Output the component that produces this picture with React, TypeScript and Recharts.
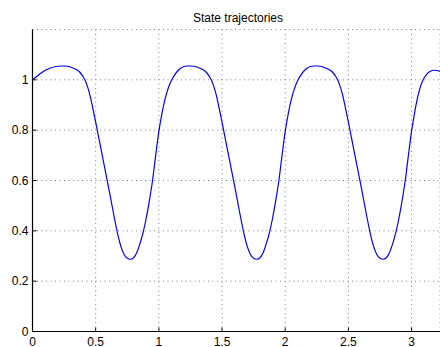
import React from 'react'
import { LineChart, Line, XAxis, YAxis, CartesianGrid } from 'recharts'

// time samples (s)
const times = [
  0, 0.025, 0.05, 0.075, 0.1, 0.125, 0.15, 0.175, 0.2, 0.225,
  0.25, 0.275, 0.3, 0.325, 0.35, 0.375, 0.4, 0.425, 0.45, 0.475,
  0.5, 0.525, 0.55, 0.575, 0.6, 0.625, 0.65, 0.675, 0.7, 0.725,
  0.75, 0.775, 0.8, 0.825, 0.85, 0.875, 0.9, 0.925, 0.95, 0.975,
  1, 1.025, 1.05, 1.075, 1.1, 1.125, 1.15, 1.175, 1.2, 1.225,
  1.25, 1.275, 1.3, 1.325, 1.35, 1.375, 1.4, 1.425, 1.45, 1.475,
  1.5, 1.525, 1.55, 1.575, 1.6, 1.625, 1.65, 1.675, 1.7, 1.725,
  1.75, 1.775, 1.8, 1.825, 1.85, 1.875, 1.9, 1.925, 1.95, 1.975,
  2, 2.025, 2.05, 2.075, 2.1, 2.125, 2.15, 2.175, 2.2, 2.225,
  2.25, 2.275, 2.3, 2.325, 2.35, 2.375, 2.4, 2.425, 2.45, 2.475,
  2.5, 2.525, 2.55, 2.575, 2.6, 2.625, 2.65, 2.675, 2.7, 2.725,
  2.75, 2.775, 2.8, 2.825, 2.85, 2.875, 2.9, 2.925, 2.95, 2.975,
  3, 3.025, 3.05, 3.075, 3.1, 3.125, 3.15, 3.175, 3.2, 3.225,
]

// state values
const state = [
  1.0, 1.01, 1.02, 1.029, 1.037, 1.043, 1.048, 1.052, 1.054, 1.055,
  1.055, 1.054, 1.051, 1.046, 1.04, 1.03, 1.013, 0.988, 0.948, 0.893,
  0.832, 0.768, 0.705, 0.641, 0.578, 0.512, 0.446, 0.385, 0.337, 0.306,
  0.291, 0.287, 0.293, 0.313, 0.348, 0.393, 0.45, 0.52, 0.6, 0.7,
  0.795, 0.868, 0.925, 0.968, 0.998, 1.02, 1.036, 1.047, 1.053, 1.055,
  1.055, 1.054, 1.051, 1.046, 1.04, 1.03, 1.013, 0.988, 0.948, 0.893,
  0.832, 0.768, 0.705, 0.641, 0.578, 0.512, 0.446, 0.385, 0.337, 0.306,
  0.291, 0.287, 0.293, 0.313, 0.348, 0.393, 0.45, 0.52, 0.6, 0.7,
  0.795, 0.868, 0.925, 0.968, 0.998, 1.02, 1.036, 1.047, 1.053, 1.055,
  1.055, 1.054, 1.051, 1.046, 1.04, 1.03, 1.013, 0.988, 0.948, 0.893,
  0.832, 0.768, 0.705, 0.641, 0.578, 0.512, 0.446, 0.385, 0.337, 0.306,
  0.291, 0.287, 0.293, 0.313, 0.348, 0.393, 0.45, 0.52, 0.6, 0.7,
  0.795, 0.872, 0.935, 0.98, 1.008, 1.025, 1.034, 1.038, 1.037, 1.033,
]

const xTicks = [0, 0.5, 1, 1.5, 2, 2.5, 3]
const yTicks = [0, 0.2, 0.4, 0.6, 0.8, 1]

const data = times.map((t, i) => ({ t, x: state[i] }))

const FONT = '"Liberation Sans", Arial, Helvetica, sans-serif'

// matlab style: tick marks point into the axes box
const BottomTick = (props: any) => {
  const { x, y, payload } = props
  return (
    <g>
      <line x1={x} x2={x} y1={y} y2={y - 4} stroke="#000" />
      <text x={x} y={y + 14} textAnchor="middle" fontSize={12} fontFamily={FONT} fill="#000">
        {String(payload.value)}
      </text>
    </g>
  )
}

const TopTick = (props: any) => {
  const { x, y } = props
  return <line x1={x} x2={x} y1={y} y2={y + 4} stroke="#000" />
}

const LeftTick = (props: any) => {
  const { x, y, payload } = props
  return (
    <g>
      <line x1={x} x2={x + 4} y1={y} y2={y} stroke="#000" />
      <text x={x - 4} y={y + 4} textAnchor="end" fontSize={12} fontFamily={FONT} fill="#000">
        {String(payload.value)}
      </text>
    </g>
  )
}

export default function App() {
  return (
    <div style={{ position: 'absolute', left: 0, top: 0, width: 440, height: 347, background: '#fff' }}>
      <LineChart width={440} height={347} data={data} margin={{ top: 29.5, right: 0, left: 0, bottom: 0 }}>
        <CartesianGrid stroke="#808080" strokeDasharray="1 3.5" />
        <XAxis
          dataKey="t"
          type="number"
          domain={[0, 3.225]}
          ticks={xTicks}
          height={15.5}
          tickSize={0}
          tickMargin={0}
          tick={<BottomTick />}
          axisLine={{ stroke: '#000', strokeWidth: 1.2 }}
          allowDataOverflow
        />
        <XAxis
          xAxisId="top"
          orientation="top"
          dataKey="t"
          type="number"
          domain={[0, 3.225]}
          ticks={xTicks}
          height={0}
          tickSize={0}
          tickMargin={0}
          tick={<TopTick />}
          axisLine={{ stroke: '#000', strokeWidth: 1.2 }}
        />
        <YAxis
          type="number"
          domain={[0, 1.2]}
          ticks={yTicks}
          width={32.5}
          tickSize={0}
          tickMargin={0}
          tick={<LeftTick />}
          axisLine={{ stroke: '#000', strokeWidth: 1.2 }}
          allowDataOverflow
        />
        <Line
          type="monotone"
          dataKey="x"
          stroke="#0000ff"
          strokeWidth={1.2}
          dot={false}
          isAnimationActive={false}
        />
      </LineChart>
      <svg width={440} height={347} style={{ position: 'absolute', left: 0, top: 0, pointerEvents: 'none' }}>
        <text x={238} y={21.5} textAnchor="middle" fontSize={12} fontFamily={FONT} fill="#000">
          State trajectories
        </text>
      </svg>
    </div>
  )
}
